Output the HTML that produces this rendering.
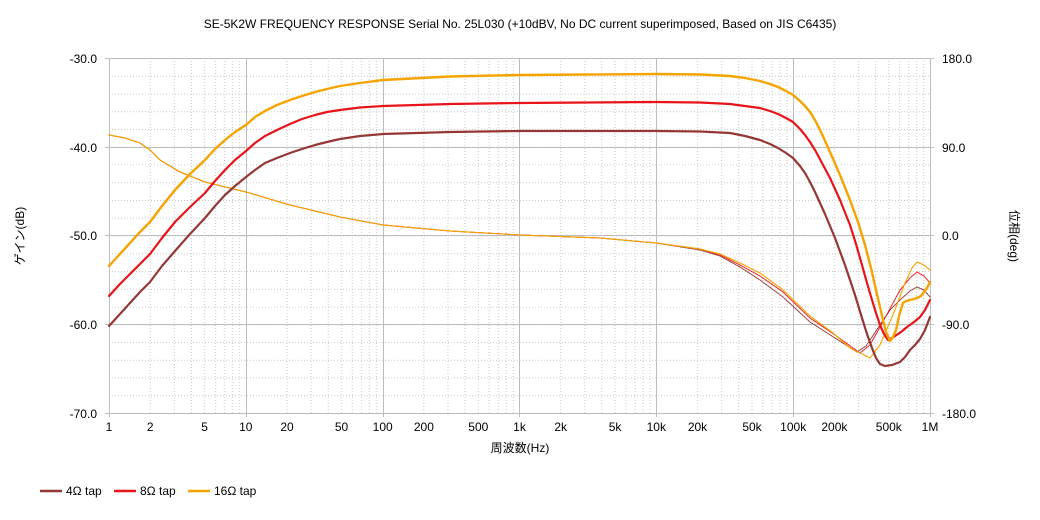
<!DOCTYPE html>
<html><head><meta charset="utf-8"><style>
html,body{margin:0;padding:0;background:#fff;}
svg{display:block;font-family:"Liberation Sans","Noto Sans CJK JP",sans-serif;}
</style></head><body>
<svg width="1040" height="520" viewBox="0 0 1040 520" xmlns="http://www.w3.org/2000/svg">
<defs>
<pattern id="vg" patternUnits="userSpaceOnUse" x="109" y="58" width="136.8333" height="355">
<g stroke="#c8c8c8" stroke-width="1" stroke-dasharray="1 2">
<line x1="41.19" y1="0" x2="41.19" y2="355"/><line x1="65.28" y1="0" x2="65.28" y2="355"/>
<line x1="82.38" y1="0" x2="82.38" y2="355"/><line x1="95.64" y1="0" x2="95.64" y2="355"/>
<line x1="106.48" y1="0" x2="106.48" y2="355"/><line x1="115.64" y1="0" x2="115.64" y2="355"/>
<line x1="123.57" y1="0" x2="123.57" y2="355"/><line x1="130.57" y1="0" x2="130.57" y2="355"/>
</g>
</pattern>
<pattern id="hg" patternUnits="userSpaceOnUse" x="109" y="58" width="821" height="17.75">
<line x1="0" y1="0.5" x2="821" y2="0.5" stroke="#c8c8c8" stroke-width="1" stroke-dasharray="1 2"/>
</pattern>
</defs>
<rect width="1040" height="520" fill="#fff"/>
<rect x="109" y="58" width="821" height="355" fill="url(#hg)"/>
<rect x="109" y="58" width="821" height="355" fill="url(#vg)"/>
<g stroke="#bdbdbd" stroke-width="1">
<line x1="105" y1="58.5" x2="934" y2="58.5"/><line x1="105" y1="147.5" x2="934" y2="147.5"/>
<line x1="105" y1="235.5" x2="934" y2="235.5"/><line x1="105" y1="324.5" x2="934" y2="324.5"/>
<line x1="105" y1="413.5" x2="934" y2="413.5"/>
<line x1="109.5" y1="58" x2="109.5" y2="417"/><line x1="246.5" y1="58" x2="246.5" y2="417"/>
<line x1="383.5" y1="58" x2="383.5" y2="417"/><line x1="519.5" y1="58" x2="519.5" y2="417"/>
<line x1="656.5" y1="58" x2="656.5" y2="417"/><line x1="793.5" y1="58" x2="793.5" y2="417"/>
<line x1="930.5" y1="58" x2="930.5" y2="417"/>
</g>
<text x="520" y="28" font-size="12" text-anchor="middle" fill="#000">SE-5K2W FREQUENCY RESPONSE Serial No. 25L030 (+10dBV,  No DC current superimposed,  Based on JIS C6435)</text>
<g font-size="12" fill="#000" text-anchor="end">
<text x="97" y="63">-30.0</text><text x="97" y="152">-40.0</text><text x="97" y="240">-50.0</text><text x="97" y="329">-60.0</text><text x="97" y="418">-70.0</text>
</g>
<g font-size="12" fill="#000" text-anchor="start">
<text x="942" y="63">180.0</text><text x="942" y="152">90.0</text><text x="942" y="240">0.0</text><text x="942" y="329">-90.0</text><text x="942" y="418">-180.0</text>
</g>
<g font-size="12" fill="#000" text-anchor="middle">
<text x="109" y="431">1</text><text x="150.2" y="431">2</text><text x="204.6" y="431">5</text>
<text x="245.8" y="431">10</text><text x="287" y="431">20</text><text x="341.5" y="431">50</text>
<text x="382.7" y="431">100</text><text x="423.9" y="431">200</text><text x="478.3" y="431">500</text>
<text x="519.5" y="431">1k</text><text x="560.7" y="431">2k</text><text x="615.1" y="431">5k</text>
<text x="656.3" y="431">10k</text><text x="697.5" y="431">20k</text><text x="752" y="431">50k</text>
<text x="793.2" y="431">100k</text><text x="834.4" y="431">200k</text><text x="888.8" y="431">500k</text>
<text x="930" y="431">1M</text>
</g>
<text x="520" y="452" font-size="12" text-anchor="middle">周波数(Hz)</text>
<text transform="translate(24,236) rotate(-90)" font-size="12" text-anchor="middle">ゲイン(dB)</text>
<text transform="translate(1010,236) rotate(90)" font-size="12" text-anchor="middle">位相(deg)</text>
<g fill="none" stroke-linejoin="round" stroke-linecap="round">
<polyline stroke="#953735" stroke-width="1" stroke-dasharray="1.5 1" points="109,135 125,138 140,143 150,150 160,160 180,172 205,182 246,192 290,205 340,217 383,225 450,231 520,235 600,238 656,243 700,250 720,256 740,267 760,280 783,297 810,322 835,338 857,352 866,346 880,325 890,310 900,300 910,291 917,287 924,290 930,297"/>
<polyline stroke="#e8141a" stroke-width="1" stroke-dasharray="1.5 1" points="109,135 125,138 140,143 150,150 160,160 180,172 205,182 246,192 290,205 340,217 383,225 450,231 520,235 600,238 656,243 700,249 720,255 740,265 760,276 783,292 810,318 835,335 860,353 870,345 885,318 900,290 910,278 917,272 924,276 930,283"/>
<polyline stroke="#f5a300" stroke-width="1.2" stroke-dasharray="1.5 1" points="109,135 125,138 140,143 150,150 160,160 180,172 205,182 246,192 290,205 340,217 383,225 450,231 520,235 600,238 656,243 700,249 720,254 740,263 760,273 783,290 810,316 833,333 850,348 870,358 880,345 895,310 905,283 912,268 917,262 924,265 930,270"/>
<polyline stroke="#953735" stroke-width="2.2" points="109,326 120,314 130,303 140,292 150,282 162,266 175,251 190,234 205,218 215,206 225,195 235,186 246,177 255,170 265,163 277,158 290,153 302,149 315,145 327,142 340,139 360,136 383,134 450,132 520,131 656,131 700,131.5 730,133 745,136 760,140 770,144 778,148 786,153 793,158 800,166 805,173 810,182 815,192 825,214 835,238 845,265 855,295 862,318 867,334 872,348 876,358 880,364 885,366 892,365 900,362 905,357 910,350 915,345 920,339 925,330 930,317"/>
<polyline stroke="#e8141a" stroke-width="2.2" points="109,296 120,284 130,274 140,264 150,254 162,238 175,222 190,207 205,193 215,181 225,170 235,160 246,151 255,143 265,136 277,130 290,124 302,119 315,115 327,112 340,110 360,107.5 383,106 450,104 520,103 656,102 700,102.5 730,104 745,106 760,108 770,111 778,114 786,118 793,122 800,129 805,135 810,142 815,150 822,163 830,178 840,200 850,225 856,244 862,265 867,283 872,300 876,313 880,325 884,334 888,340 892,338 895,336 901,332 907,327 914,322 920,317 925,310 930,300"/>
<polyline stroke="#f5a300" stroke-width="2.4" points="109,266 120,254 130,243 140,232 150,222 162,206 175,190 190,174 205,160 215,149 225,140 235,132 246,125 255,117 265,111 277,105 290,100 302,96 315,92 327,89 340,86 360,83 383,80 450,76.5 520,75 656,74 700,74.5 730,76 745,78 760,81 770,84 778,87 786,91 793,95 800,101 805,106 810,112 815,120 822,134 830,152 840,175 850,200 858,222 865,245 871,268 876,290 880,307 883,320 886,332 890,341 893,337 896,330 899,316 903,303 906,301 910,300 914,299 917,298 921,296 924,292 927,288 930,282"/>
</g>
<g stroke-width="2.5">
<line x1="40" y1="491" x2="62" y2="491" stroke="#953735"/>
<line x1="114" y1="491" x2="136" y2="491" stroke="#e8141a"/>
<line x1="188" y1="491" x2="210" y2="491" stroke="#f5a300"/>
</g>
<g font-size="12" fill="#000">
<text x="66" y="495">4Ω tap</text><text x="140" y="495">8Ω tap</text><text x="214" y="495">16Ω tap</text>
</g>
</svg>
</body></html>
